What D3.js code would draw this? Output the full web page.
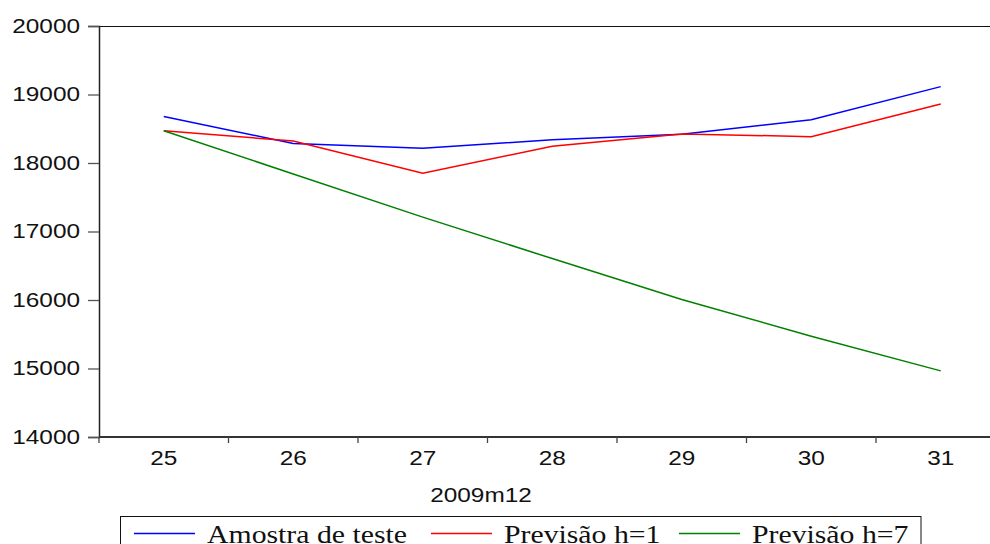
<!DOCTYPE html>
<html><head><meta charset="utf-8">
<script src="https://cdn.jsdelivr.net/npm/d3@7"></script>
<style>body{margin:0;background:#fff}svg{display:block}</style>
</head><body>
<svg id="c" width="990" height="544"></svg>
<script>
const categories = ["25","26","27","28","29","30","31"];
const xTitle = "2009m12";
const yTicks = [14000,15000,16000,17000,18000,19000,20000];
const amostra = [18680,18285,18215,18340,18420,18630,19115];
const prevH1  = [18472,18320,17850,18245,18425,18385,18860];
const prevH7  = [18472,17840,17210,16605,16008,15472,14965];
const seriesNames = ["Amostra de teste","Previsão h=1","Previsão h=7"];
const seriesColors = ["#0000ff","#ff0000","#008000"];
const seriesData = [amostra, prevH1, prevH7];

const svg = d3.select("#c");
const L = 99, T = 26, B = 437, Rfull = 1005.5;
const x = d3.scaleBand().domain(categories).range([L, Rfull]).paddingInner(0).paddingOuter(0);
const y = d3.scaleLinear().domain([14000,20000]).range([B, T]);
const stretchBy = k => sel => sel.each(function(){
  const w = this.getComputedTextLength();
  d3.select(this).attr("textLength", w*k).attr("lengthAdjust","spacingAndGlyphs");
});
const stretch = stretchBy(1.25);

// frame top line
svg.append("line").attr("x1",L).attr("x2",990).attr("y1",T+0.5).attr("y2",T+0.5).attr("stroke","#111").attr("stroke-width",1.2);

// y axis
const ya = svg.append("g").attr("transform",`translate(${L},0)`)
  .call(d3.axisLeft(y).tickValues(yTicks).tickFormat(d3.format("d")).tickSize(11).tickPadding(8));
ya.select(".domain").attr("stroke","#222").attr("stroke-width",1.5);
ya.selectAll(".tick line").attr("stroke","#555").attr("stroke-width",1.3);
ya.selectAll("text").attr("font-family","Liberation Sans, Arial, sans-serif").attr("font-size",19.5).attr("fill","#111").call(stretch);

// x axis (ticks at band boundaries)
const xa = svg.append("g").attr("transform",`translate(0,${B})`)
  .call(d3.axisBottom(x).tickSize(0).tickPadding(14));
xa.select(".domain").attr("stroke","#333").attr("stroke-width",2.2).attr("d",`M${L},0H990`);
xa.selectAll("text").attr("font-family","Liberation Sans, Arial, sans-serif").attr("font-size",19.5).attr("fill","#111").call(stretch);
svg.append("g").selectAll("line").data(categories).join("line")
  .attr("x1",d=>x(d)).attr("x2",d=>x(d)).attr("y1",B).attr("y2",B+6)
  .attr("stroke","#444").attr("stroke-width",1.3);

svg.append("text").attr("x",481).attr("y",502).attr("text-anchor","middle")
  .attr("font-family","Liberation Sans, Arial, sans-serif").attr("font-size",19.5).attr("fill","#111")
  .text(xTitle).call(stretch);

// lines
const line = d3.line().x((d,i)=>x(categories[i])+x.bandwidth()/2).y(d=>y(d));
svg.append("g").selectAll("path").data(seriesData).join("path")
  .attr("d",line).attr("fill","none").attr("stroke",(d,i)=>seriesColors[i]).attr("stroke-width",1.5);

// legend
const lg = svg.append("g");
lg.append("rect").attr("x",120.5).attr("y",516.5).attr("width",800.5).attr("height",40).attr("fill","#fff").attr("stroke","#111").attr("stroke-width",1);
const lx = [134, 431, 679];
seriesNames.forEach((n,i)=>{
  lg.append("line").attr("x1",lx[i]).attr("x2",lx[i]+61).attr("y1",533.5).attr("y2",533.5).attr("stroke",seriesColors[i]).attr("stroke-width",1.3);
  lg.append("text").attr("x",lx[i]+73).attr("y",543).attr("font-family","Liberation Serif, Times New Roman, serif")
    .attr("font-size",25).attr("fill","#111").text(n).call(stretchBy(1.19));
});
</script>
</body></html>
